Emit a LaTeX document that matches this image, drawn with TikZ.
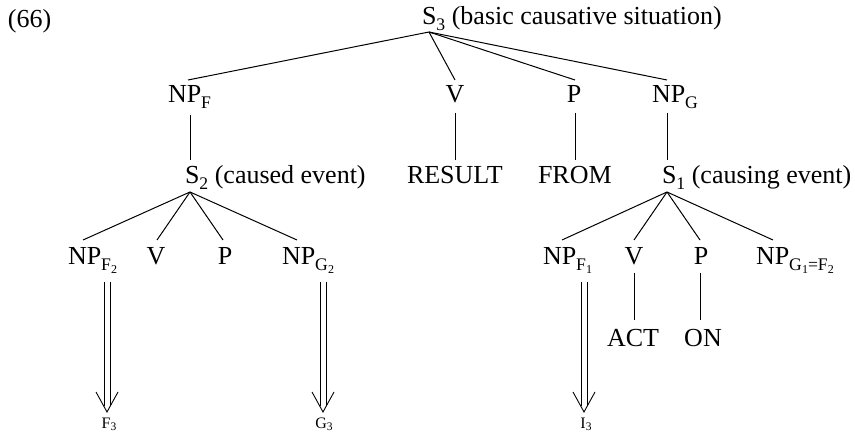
\documentclass[tikz,border=0pt]{standalone}
\usepackage{fontspec}
\setmainfont{Liberation Serif}
\usepackage{graphicx}
\newcommand{\sbs}[1]{\raisebox{-0.2em}{\scalebox{0.68}{#1}}}
\newcommand{\ssbs}[1]{\raisebox{-0.12em}{\scalebox{0.72}{#1}}}
\begin{document}
\begin{tikzpicture}[x=1pt,y=-1pt,
  font=\fontsize{26}{28}\selectfont,
  lbl/.style={inner sep=0pt, outer sep=0pt},
  sml/.style={inner sep=0pt, outer sep=0pt, font=\fontsize{16}{18}\selectfont},
  edge/.style={line width=1pt},
  dline/.style={line width=0.9pt},
  dhead/.style={line width=0.9pt, line join=miter}]
\useasboundingbox (0,0) rectangle (855,435);

% labels
\node[lbl, anchor=base west] (ex) at (8,28) {(66)};
\node[lbl, anchor=base west] (s3) at (422,25) {S\sbs{3} (basic causative situation)};
\node[lbl, anchor=base west] (npf) at (168,103) {NP\sbs{F}};
\node[lbl, anchor=base] (v1) at (455,103) {V};
\node[lbl, anchor=base] (p1) at (574,103) {P};
\node[lbl, anchor=base west] (npg) at (652,103) {NP\sbs{G}};
\node[lbl, anchor=base west] (s2) at (185,184) {S\sbs{2} (caused event)};
\node[lbl, anchor=base west] (res) at (407,184) {RESULT};
\node[lbl, anchor=base west] (from) at (538,184) {FROM};
\node[lbl, anchor=base west] (s1) at (662,184) {S\sbs{1} (causing event)};
\node[lbl, anchor=base west] (npf2) at (68,265) {NP\sbs{F\sbs{2}}};
\node[lbl, anchor=base] (v2) at (156,265) {V};
\node[lbl, anchor=base] (p2) at (225,265) {P};
\node[lbl, anchor=base west] (npg2) at (282,265) {NP\sbs{G\sbs{2}}};
\node[lbl, anchor=base west] (npf1) at (543,265) {NP\sbs{F\sbs{1}}};
\node[lbl, anchor=base] (v3) at (634,265) {V};
\node[lbl, anchor=base] (p3) at (701,265) {P};
\node[lbl, anchor=base west] (npg1) at (756,265) {NP\sbs{G\sbs{1}=F\sbs{2}}};
\node[lbl, anchor=base] (act) at (633,347) {ACT};
\node[lbl, anchor=base] (on) at (703,347) {ON};
\node[sml, anchor=base] (f3) at (109,429) {F\ssbs{3}};
\node[sml, anchor=base] (g3) at (324,429) {G\ssbs{3}};
\node[sml, anchor=base] (i3) at (586,429) {I\ssbs{3}};

% attachment points
\coordinate (s3b) at (429,32);
\coordinate (npft) at (188,80);
\coordinate (v1t) at (455,80);
\coordinate (p1t) at (575,80);
\coordinate (npgt) at (667,80);
\coordinate (npfb) at (190,115);
\coordinate (s2t) at (190,160);
\coordinate (v1b) at (455,113);
\coordinate (rest) at (455,160);
\coordinate (p1b) at (575,113);
\coordinate (fromt) at (575,160);
\coordinate (npgb) at (667,113);
\coordinate (s1t) at (667,160);
\coordinate (s2b) at (190,192);
\coordinate (npf2t) at (83,240);
\coordinate (v2t) at (157,240);
\coordinate (p2t) at (223,240);
\coordinate (npg2t) at (297,240);
\coordinate (s1b) at (667,192);
\coordinate (npf1t) at (562,240);
\coordinate (v3t) at (634,240);
\coordinate (p3t) at (700,240);
\coordinate (npg1t) at (773,240);
\coordinate (v3b) at (634,273);
\coordinate (actt) at (634,320);
\coordinate (p3b) at (700,273);
\coordinate (ont) at (700,320);
% double arrows
\coordinate (af2) at (107,282);
\coordinate (af2e) at (107,406);
\coordinate (af2tip) at (107,412);
\coordinate (ag2) at (323,282);
\coordinate (ag2e) at (323,406);
\coordinate (ag2tip) at (323,412);
\coordinate (af1) at (584,282);
\coordinate (af1e) at (584,406);
\coordinate (af1tip) at (584,412);

% tree edges
\draw[edge] (s3b) -- (npft);
\draw[edge] (s3b) -- (v1t);
\draw[edge] (s3b) -- (p1t);
\draw[edge] (s3b) -- (npgt);
\draw[edge] (npfb) -- (s2t);
\draw[edge] (v1b) -- (rest);
\draw[edge] (p1b) -- (fromt);
\draw[edge] (npgb) -- (s1t);
\draw[edge] (s2b) -- (npf2t);
\draw[edge] (s2b) -- (v2t);
\draw[edge] (s2b) -- (p2t);
\draw[edge] (s2b) -- (npg2t);
\draw[edge] (s1b) -- (npf1t);
\draw[edge] (s1b) -- (v3t);
\draw[edge] (s1b) -- (p3t);
\draw[edge] (s1b) -- (npg1t);
\draw[edge] (v3b) -- (actt);
\draw[edge] (p3b) -- (ont);

% double arrows
\foreach \a in {af2,ag2,af1}{
  \draw[dline] ([xshift=-3pt]\a) -- ([xshift=-3pt]\a e);
  \draw[dline] ([xshift=3pt]\a) -- ([xshift=3pt]\a e);
  \draw[dhead] (\a tip) ++(-11,-20) -- (\a tip) -- ++(11,-20);
}
\end{tikzpicture}
\end{document}
